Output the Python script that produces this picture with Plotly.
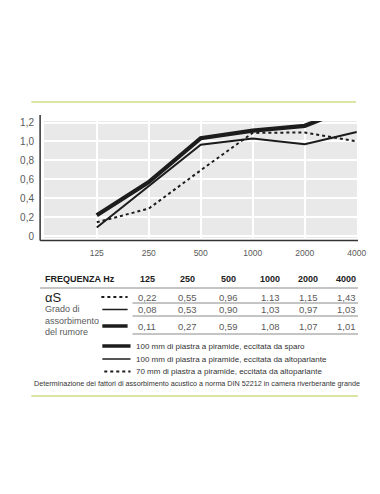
import plotly.graph_objects as go

# ---- data ----
freqs = ["125", "250", "500", "1000", "2000", "4000"]
y_ticks = [0, 0.2, 0.4, 0.6, 0.8, 1.0, 1.2]
y_tick_labels = ["0", "0,2", "0,4", "0,6", "0,8", "1,0", "1,2"]

# curves
sparo = [0.22, 0.57, 1.035, 1.115, 1.165, 1.38]
altop_100 = [0.09, 0.53, 0.965, 1.03, 0.97, 1.10]
altop_70 = [0.145, 0.29, 0.695, 1.09, 1.095, 1.00]

# table
row_dotted = ["0,22", "0,55", "0,96", "1.13", "1,15", "1,43"]
row_thin = ["0,08", "0,53", "0,90", "1,03", "0,97", "1,03"]
row_thick = ["0,11", "0,27", "0,59", "1,08", "1,07", "1,01"]

legend_texts = [
    "100 mm di piastra a piramide, eccitata da sparo",
    "100 mm di piastra a piramide, eccitata da altoparlante",
    "70 mm di piastra a piramide, eccitata da altoparlante",
]
caption = "Determinazione dei fattori di assorbimento acustico a norma DIN 52212 in camera riverberante grande"

# ---- layout geometry (screen pixels; page body has an 8px margin) ----
OFF = 8
W, H = 380 - OFF, 494 - OFF
PL, PR, PT, PB = 35, 357, 121, 238
PW, PH = PR - PL, PB - PT


def px(x):
    return (x - PL) / PW


def py(y):
    return (PB - y) / PH


SANS = "Liberation Sans, Arial, Helvetica, sans-serif"
DARK = "#1c1c1c"
GREY = "#5a5a5a"
GREEN = "#dde5a6"

xs = list(range(len(freqs)))
fig = go.Figure()
fig.add_trace(go.Scatter(x=xs, y=altop_70, mode="lines",
                         line=dict(color=DARK, width=2, dash="dot"), showlegend=False))
fig.add_trace(go.Scatter(x=xs, y=altop_100, mode="lines",
                         line=dict(color=DARK, width=2), showlegend=False))
fig.add_trace(go.Scatter(x=xs, y=sparo, mode="lines",
                         line=dict(color=DARK, width=4.2), showlegend=False))

fig.update_layout(
    width=W, height=H,
    margin=dict(l=PL - OFF, r=W - (PR - OFF), t=PT - OFF, b=H - (PB - OFF)),
    paper_bgcolor="white",
    plot_bgcolor="#e9e9e9",
    xaxis=dict(range=[-1.015, 5.006], tickmode="array", tickvals=xs, ticktext=freqs,
               showgrid=True, gridcolor="white", gridwidth=1.5, zeroline=False,
               showline=False, ticks="", ticklabelstandoff=8,
               tickfont=dict(family=SANS, size=8.5, color=GREY)),
    yaxis=dict(range=[-0.021, 1.216], tickmode="array", tickvals=y_ticks, ticktext=y_tick_labels,
               showgrid=True, gridcolor="white", gridwidth=1.5, zeroline=False,
               showline=False, ticks="", ticklabelstandoff=9,
               tickfont=dict(family=SANS, size=10, color=GREY)),
)

shapes = []
# axis lines offset from the grey area
shapes.append(dict(type="line", xref="paper", yref="paper", x0=px(31), x1=px(31),
                   y0=py(115), y1=py(240.5), line=dict(color="#333", width=1.5)))
shapes.append(dict(type="line", xref="paper", yref="paper", x0=px(31), x1=px(358),
                   y0=py(240.5), y1=py(240.5), line=dict(color="#333", width=1.5)))
# green rules
shapes.append(dict(type="line", xref="paper", yref="paper", x0=px(22), x1=px(356),
                   y0=py(102), y1=py(102), line=dict(color=GREEN, width=2)))
shapes.append(dict(type="line", xref="paper", yref="paper", x0=px(22), x1=px(358),
                   y0=py(396), y1=py(396), line=dict(color=GREEN, width=2)))

# table rules
rule_col = "#8a8a8a"
shapes.append(dict(type="line", xref="paper", yref="paper", x0=px(31), x1=px(358),
                   y0=py(288), y1=py(288), line=dict(color=rule_col, width=1)))
for yy in [303, 316, 334]:
    shapes.append(dict(type="line", xref="paper", yref="paper", x0=px(126), x1=px(358),
                       y0=py(yy), y1=py(yy), line=dict(color=rule_col, width=1)))


def sym(x0, x1, y, kind):
    if kind == "dot":
        ln = dict(color=DARK, width=2, dash="dot")
    elif kind == "thin":
        ln = dict(color=DARK, width=1.5)
    else:
        ln = dict(color=DARK, width=3.5)
    shapes.append(dict(type="line", xref="paper", yref="paper", x0=px(x0), x1=px(x1),
                       y0=py(y), y1=py(y), line=ln))


# table symbols
sym(94, 121, 297, "dot")
sym(95, 121, 309.5, "thin")
sym(95, 121, 326, "thick")
# legend symbols
sym(95, 124, 346, "thick")
sym(95, 124, 359, "thin")
sym(97, 124, 371.5, "dot")

annotations = []


def txt(x, y, s, size, color, xanchor="left", bold=False):
    annotations.append(dict(xref="paper", yref="paper", x=px(x), y=py(y),
                            text=("<b>%s</b>" % s) if bold else s,
                            showarrow=False, xanchor=xanchor, yanchor="middle",
                            font=dict(family=SANS, size=size, color=color)))


col_x = [141, 183, 225, 268, 307, 346]
txt(34, 279, "FREQUENZA Hz", 9, DARK, bold=True)
for cx, f in zip(col_x, freqs):
    txt(cx, 279, f, 9, DARK, xanchor="center", bold=True)
txt(34, 297, "αS", 13, DARK)
txt(34, 309, "Grado di", 9, GREY)
txt(34, 320.5, "assorbimento", 9, GREY)
txt(34, 332, "del rumore", 9, GREY)
for row, yy in zip([row_dotted, row_thin, row_thick], [297, 309.5, 326]):
    for cx, v in zip(col_x, row):
        txt(cx, yy, v, 9.5, GREY, xanchor="center")

for s, yy in zip(legend_texts, [346, 359, 371.5]):
    txt(128, yy, s, 8, "#333")
txt(192.5, 383.5, caption, 7.2, "#333", xanchor="center")

fig.update_layout(shapes=shapes, annotations=annotations)
fig.write_html("out.html")
